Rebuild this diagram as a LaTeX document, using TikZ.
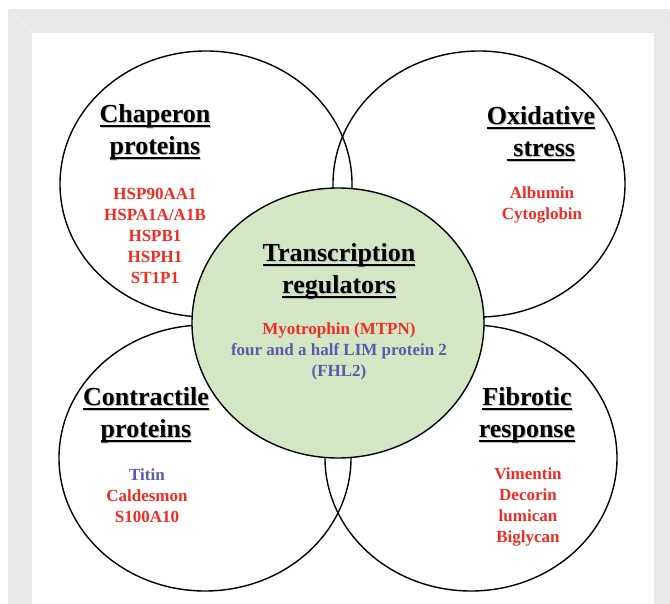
\documentclass[tikz,border=0pt]{standalone}
\usepackage{fontspec}
\setmainfont{Liberation Serif}
\usetikzlibrary{shapes.geometric}
\definecolor{framegrey}{RGB}{232,233,235}
\definecolor{bevelgrey}{RGB}{240,241,242}
\definecolor{itemred}{RGB}{240,45,35}
\definecolor{itemblue}{RGB}{90,90,170}
\definecolor{centregreen}{RGB}{212,231,197}
\definecolor{shadowgrey}{RGB}{190,190,190}
\newcommand\myul[1]{\setbox0=\hbox{#1}%
  \rlap{\hspace{1pt}\raisebox{-1pt}{\color{shadowgrey}\rule[-4.5pt]{\wd0}{2pt}}}%
  \rlap{\hspace{1pt}\raisebox{-1pt}{\color{shadowgrey}#1}}%
  \rlap{\rule[-4.5pt]{\wd0}{2pt}}\box0}
\tikzset{
  venn/.style={ellipse, draw=black, line width=1.4pt, inner sep=0pt,
    minimum width=292pt, minimum height=266pt},
  hub/.style={venn, fill=centregreen},
  heading/.style={align=center, font=\fontsize{26}{32}\selectfont\bfseries, inner sep=0pt},
  items/.style={align=center, font=\fontsize{17}{21}\selectfont\bfseries, inner sep=0pt},
}
\begin{document}
\begin{tikzpicture}[x=1pt,y=-1pt]
\useasboundingbox (0,0) rectangle (670,604);
% frame
\fill[framegrey] (8,9) rectangle (670,604);
\fill[white] (32,33) rectangle (654,604);
\draw[bevelgrey, line width=0.8pt] (8,9) -- (32,33);
\draw[bevelgrey, line width=0.8pt] (670,9) -- (654,33);
% circles
\node[venn] (chap) at (206,184) {};
\node[venn] (oxid) at (479,184) {};
\node[venn] (contr) at (205,458) {};
\node[venn] (fibro) at (471,458) {};
\node[hub, minimum height=270pt] (trans) at (338,323) {};
% texts
\node[heading] (chapT) at (155,133) {\myul{Chaperon}\\\myul{proteins}};
\node[items, text=itemred] (chapI) at (155,235.5) {HSP90AA1\\HSPA1A/A1B\\HSPB1\\HSPH1\\ST1P1};
\node[heading] (oxidT) at (541,134) {\myul{Oxidative}\\\myul{\ stress}};
\node[items, text=itemred] (oxidI) at (542,204.5) {Albumin\\Cytoglobin};
\node[heading] (transT) at (339,272) {\myul{Transcription}\\\myul{regulators}};
\node[items] (transI) at (339,351) {\textcolor{itemred}{Myotrophin (MTPN)}\\\textcolor{itemblue}{four and a half LIM protein 2}\\\textcolor{itemblue}{(FHL2)}};
\node[heading] (contrT) at (146,416) {\myul{Contractile}\\\myul{proteins}};
\node[items] (contrI) at (147,495.5) {\textcolor{itemblue}{Titin}\\\textcolor{itemred}{Caldesmon}\\\textcolor{itemred}{S100A10}};
\node[heading] (fibroT) at (527,416) {\myul{Fibrotic}\\\myul{response}};
\node[items, text=itemred] (fibroI) at (528,506.5) {Vimentin\\Decorin\\lumican\\Biglycan};
\end{tikzpicture}
\end{document}
